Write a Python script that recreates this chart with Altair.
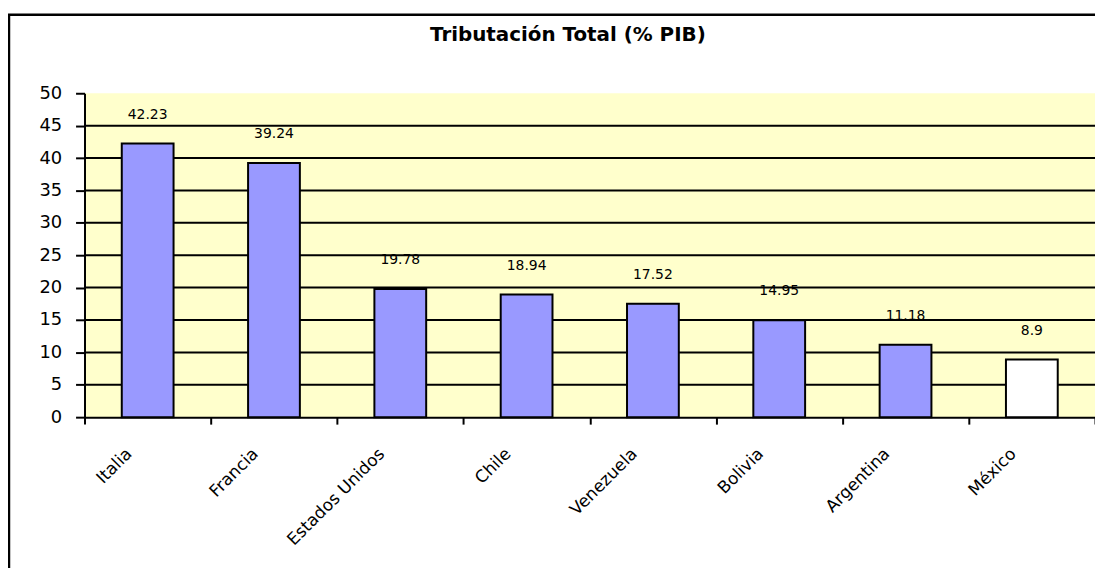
import altair as alt
import pandas as pd

paises = ["Italia", "Francia", "Estados Unidos", "Chile", "Venezuela", "Bolivia", "Argentina", "México"]
valores = [42.23, 39.24, 19.78, 18.94, 17.52, 14.95, 11.18, 8.9]
etiquetas = ["42.23", "39.24", "19.78", "18.94", "17.52", "14.95", "11.18", "8.9"]
colores = ["#9999FF", "#9999FF", "#9999FF", "#9999FF", "#9999FF", "#9999FF", "#9999FF", "#FFFFFF"]
marcas_y = [0, 5, 10, 15, 20, 25, 30, 35, 40, 45, 50]
rejilla_y = [5, 10, 15, 20, 25, 30, 35, 40, 45]

df = pd.DataFrame({"pais": paises, "valor": valores, "etiqueta": etiquetas, "color": colores})
df_grid = pd.DataFrame({"valor": rejilla_y})

W, H = 1017, 326

x = alt.X(
    "pais:N",
    sort=paises,
    title=None,
    scale=alt.Scale(paddingInner=0, paddingOuter=0),
    axis=alt.Axis(
        tickBand="extent",
        labelAngle=-45,
        labelAlign="right",
        labelBaseline="middle",
        labelPadding=27,
        labelOffset=-19,
        labelFont="DejaVu Sans",
        labelFontSize=17,
        labelColor="black",
        labelOverlap=False,
        domainColor="black",
        domainWidth=2,
        tickColor="black",
        tickWidth=2,
        tickSize=7,
        grid=False,
    ),
)

y = alt.Y(
    "valor:Q",
    title=None,
    scale=alt.Scale(domain=[0, 50], nice=False),
    axis=alt.Axis(
        values=marcas_y,
        labelFont="DejaVu Sans",
        labelFontSize=18,
        labelColor="black",
        labelPadding=14,
        labelOverlap=False,
        labelFlush=False,
        domainColor="black",
        domainWidth=2,
        tickColor="black",
        tickWidth=2,
        tickSize=9,
        grid=False,
    ),
)

frame = alt.Chart(alt.Data(values=[{"a": 1}])).mark_rect(
    filled=False, stroke="black", strokeWidth=2.5
).encode(
    x=alt.value(-76), x2=alt.value(W + 40), y=alt.value(-79), y2=alt.value(H + 250)
)

grid = alt.Chart(df_grid).mark_rule(color="black", strokeWidth=2).encode(y=y)

bars = alt.Chart(df).mark_bar(
    stroke="black", strokeWidth=2, width=alt.RelativeBandSize(0.41)
).encode(
    x=x, y=y, fill=alt.Fill("color:N", scale=None)
)

labels = alt.Chart(df).mark_text(
    font="DejaVu Sans", fontSize=14, color="black", baseline="middle", dy=-29
).encode(
    x=x, y=y, text="etiqueta:N"
)

chart = alt.layer(frame, grid, bars, labels).properties(
    width=W,
    height=H,
    title=alt.Title(
        "Tributación Total  (% PIB)",
        font="DejaVu Sans",
        fontSize=20,
        fontWeight="bold",
        color="black",
        anchor="middle",
        frame="group",
        dx=-22,
        offset=-32,
    ),
    background="white",
    autosize=alt.AutoSizeParams(type="none"),
    padding={"left": 77, "top": 84, "right": 0, "bottom": 150},
).configure_view(
    fill="#FFFFCC", stroke=None
)

chart.save("out.html", embed_options={"renderer": "svg", "actions": False})
